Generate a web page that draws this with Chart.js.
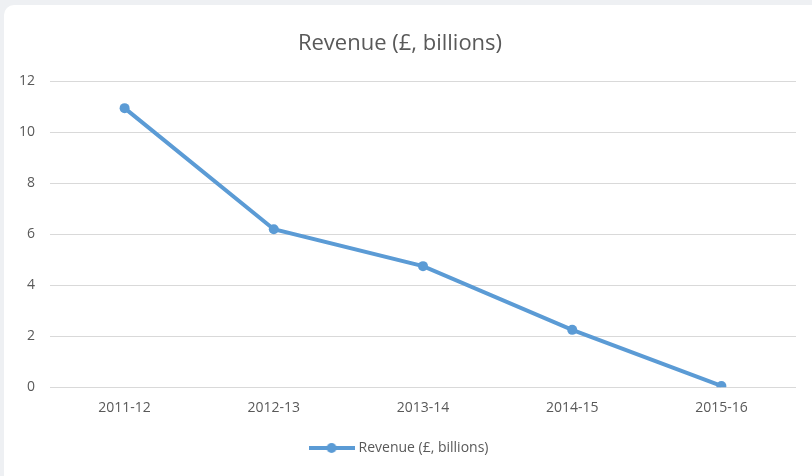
<!DOCTYPE html>
<html>
<head>
<meta charset="utf-8">
<script src="https://cdn.jsdelivr.net/npm/chart.js@4"></script>
<style>
  html, body { margin: 0; padding: 0; background: #eef0f3; }
  .card {
    position: absolute; left: 4px; top: 5px; width: 808px; height: 471px;
    background: #ffffff; border-radius: 10px 0 0 0; overflow: hidden;
  }
</style>
</head>
<body>
<div class="card"><canvas id="revenueChart" width="808" height="471"></canvas></div>
<script>
const years = ["2011-12", "2012-13", "2013-14", "2014-15", "2015-16"];
const revenue = [10.95, 6.2, 4.75, 2.25, 0.05];
const seriesName = "Revenue (£, billions)";

const blue = "#5b9bd5";

// legend marker: line with a dot in the middle
const marker = document.createElement("canvas");
marker.width = 46;
marker.height = 12;
const mctx = marker.getContext("2d");
mctx.strokeStyle = blue;
mctx.lineWidth = 4;
mctx.beginPath();
mctx.moveTo(0, 6);
mctx.lineTo(46, 6);
mctx.stroke();
mctx.fillStyle = blue;
mctx.beginPath();
mctx.arc(23, 6, 5, 0, Math.PI * 2);
mctx.fill();

new Chart(document.getElementById("revenueChart"), {
  type: "line",
  data: {
    labels: years,
    datasets: [{
      label: seriesName,
      data: revenue,
      borderColor: blue,
      backgroundColor: blue,
      borderWidth: 4,
      pointRadius: 5,
      pointStyle: "circle",
      pointBackgroundColor: blue,
      pointBorderWidth: 0,
      tension: 0
    }]
  },
  options: {
    responsive: false,
    animation: false,
    layout: { padding: { left: 0, right: 16, top: 10, bottom: 11 } },
    plugins: {
      title: {
        display: true,
        text: seriesName,
        color: "#595959",
        font: { family: "Open Sans", size: 22, weight: "normal" },
        padding: { top: 16, bottom: 24 }
      },
      legend: {
        position: "bottom",
        labels: {
          usePointStyle: true,
          pointStyleWidth: 40,
          generateLabels: () => [{
            text: seriesName,
            pointStyle: marker,
            fontColor: "#595959",
            datasetIndex: 0
          }],
          color: "#595959",
          font: { family: "Open Sans", size: 14 },
          padding: 21
        }
      },
      tooltip: { enabled: false }
    },
    scales: {
      x: {
        offset: true,
        grid: { display: false },
        border: { display: false },
        ticks: { color: "#595959", font: { family: "Open Sans", size: 14 }, padding: 4 }
      },
      y: {
        min: 0,
        max: 12,
        ticks: { stepSize: 2, color: "#595959", font: { family: "Open Sans", size: 14 }, padding: 15 },
        grid: { color: "#d9d9d9", drawTicks: false },
        border: { display: false }
      }
    }
  }
});
</script>
</body>
</html>
